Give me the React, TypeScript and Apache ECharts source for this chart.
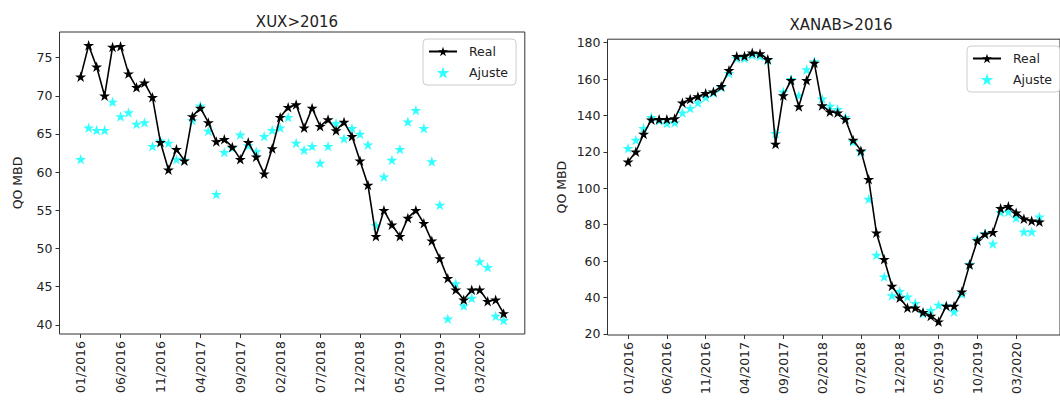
import React, { useEffect, useRef } from 'react';
import * as echarts from 'echarts';

const months = [
  '01/2016', '02/2016', '03/2016', '04/2016', '05/2016', '06/2016', '07/2016', '08/2016', '09/2016', '10/2016', '11/2016', '12/2016',
  '01/2017', '02/2017', '03/2017', '04/2017', '05/2017', '06/2017', '07/2017', '08/2017', '09/2017', '10/2017', '11/2017', '12/2017',
  '01/2018', '02/2018', '03/2018', '04/2018', '05/2018', '06/2018', '07/2018', '08/2018', '09/2018', '10/2018', '11/2018', '12/2018',
  '01/2019', '02/2019', '03/2019', '04/2019', '05/2019', '06/2019', '07/2019', '08/2019', '09/2019', '10/2019', '11/2019', '12/2019',
  '01/2020', '02/2020', '03/2020', '04/2020', '05/2020', '06/2020',
];

const tickIndices = [0, 5, 10, 15, 20, 25, 30, 35, 40, 45, 50];

const xuxReal = [
  72.5, 76.6, 73.8, 70.0, 76.4, 76.5, 72.9, 71.1, 71.7, 69.8,
  63.9, 60.3, 63.0, 61.5, 67.3, 68.4, 66.5, 64.0, 64.3, 63.3,
  61.7, 63.9, 62.0, 59.8, 63.1, 67.2, 68.5, 68.85, 65.8, 68.4,
  66.0, 66.9, 65.45, 66.55, 64.7, 61.5, 58.3, 51.6, 55.0, 53.1,
  51.6, 54.0, 55.0, 53.3, 51.0, 48.7, 46.1, 44.6, 43.3, 44.6,
  44.6, 43.1, 43.3, 41.5,
];
const xuxAjuste = [
  61.7, 65.8, 65.5, 65.5, 69.2, 67.3, 67.8, 66.3, 66.5, 63.4,
  64.1, 63.8, 61.7, 61.6, 66.8, 68.7, 65.4, 57.1, 62.6, 63.2,
  64.9, 63.5, 62.7, 64.7, 65.5, 65.8, 67.2, 63.8, 62.9, 63.4,
  61.2, 63.4, 66.4, 64.4, 65.75, 65.0, 63.6, 53.0, 59.4, 61.6,
  63.0, 66.6, 68.1, 65.75, 61.4, 55.7, 40.8, 45.4, 42.5, 43.5,
  48.3, 47.55, 41.15, 40.6,
];
const xanabReal = [
  114.6, 120.1, 129.8, 137.7, 137.9, 137.9, 138.3, 147.0, 149.0, 150.5,
  152.2, 153.0, 156.0, 164.8, 172.5, 172.7, 174.5, 174.0, 170.9, 124.4,
  151.0, 159.3, 145.0, 159.3, 168.8, 145.5, 142.1, 141.5, 137.9, 126.6,
  120.7, 105.0, 75.6, 61.0, 46.4, 39.9, 34.4, 34.4, 32.0, 29.9,
  26.8, 35.4, 35.4, 43.2, 58.1, 71.4, 74.9, 75.9, 89.0, 90.1,
  86.6, 83.3, 82.2, 81.7,
];
const xanabAjuste = [
  122.0, 126.6, 133.0, 139.0, 137.2, 135.7, 136.1, 141.5, 144.0, 147.0,
  150.0, 152.5, 155.5, 163.2, 171.4, 171.4, 173.2, 172.7, 170.5, 130.2,
  153.1, 159.9, 151.0, 165.2, 169.6, 149.2, 145.2, 143.4, 139.0, 125.6,
  120.0, 94.2, 63.4, 51.5, 41.2, 43.5, 40.5, 36.9, 31.4, 33.0,
  35.9, 35.5, 32.2, 42.0, 58.5, 72.3, 75.3, 69.6, 86.9, 87.2,
  83.8, 76.2, 76.2, 84.4,
];

const xuxYTicks = [40, 45, 50, 55, 60, 65, 70, 75];
const xanabYTicks = [20, 40, 60, 80, 100, 120, 140, 160, 180];

const STAR =
  'path://M0,-1L0.2245,-0.309L0.951,-0.309L0.363,0.118L0.588,0.809L0,0.382L-0.588,0.809L-0.363,0.118L-0.951,-0.309L-0.2245,-0.309Z';

const FONT = 'DejaVu Sans';
const TXT = '#222222';
const AX = '#333333';

function makeX(gridIndex: number) {
  return {
    type: 'value',
    gridIndex,
    min: -2.65,
    max: 55.65,
    position: 'bottom',
    splitLine: { show: false },
    axisLine: { show: false, onZero: false },
    axisTick: { show: true, customValues: tickIndices, length: 4, lineStyle: { color: AX, width: 1 } },
    axisLabel: {
      customValues: tickIndices,
      rotate: 90,
      margin: 7,
      fontSize: 12.5,
      fontFamily: FONT,
      color: TXT,
      formatter: (v: number) => months[Math.round(v)] ?? '',
    },
  };
}

function makeY(gridIndex: number, min: number, max: number, ticks: number[], nameGap: number) {
  return {
    type: 'value',
    gridIndex,
    min,
    max,
    position: 'left',
    name: 'QO MBD',
    nameLocation: 'middle',
    nameGap,
    nameTextStyle: { fontSize: 12.5, fontFamily: FONT, color: TXT },
    splitLine: { show: false },
    axisLine: { show: false, onZero: false },
    axisTick: { show: true, customValues: ticks, length: 4, lineStyle: { color: AX, width: 1 } },
    axisLabel: { customValues: ticks, margin: 7, fontSize: 12.5, fontFamily: FONT, color: TXT },
  };
}

function makeSeries(idx: number, real: number[], fit: number[]) {
  return [
    {
      type: 'scatter',
      name: 'Ajuste',
      xAxisIndex: idx,
      yAxisIndex: idx,
      data: fit.map((v, i) => [i, v]),
      symbol: STAR,
      symbolSize: [11, 10.5],
      itemStyle: { color: '#00ffff' },
      z: 2,
      emphasis: { disabled: true },
    },
    {
      type: 'line',
      name: 'Real',
      xAxisIndex: idx,
      yAxisIndex: idx,
      data: real.map((v, i) => [i, v]),
      symbol: STAR,
      symbolSize: [11, 10.5],
      showAllSymbol: true,
      itemStyle: { color: '#000000' },
      lineStyle: { color: '#000000', width: 1.6 },
      z: 3,
      emphasis: { disabled: true },
    },
  ];
}

const legendCommon = {
  orient: 'vertical',
  data: ['Real', 'Ajuste'],
  itemWidth: 28,
  itemHeight: 12,
  itemGap: 8,
  padding: [6, 8, 6, 5],
  borderColor: '#cccccc',
  borderWidth: 1,
  borderRadius: 4,
  backgroundColor: 'rgba(255,255,255,0.8)',
  textStyle: { fontSize: 12.5, fontFamily: FONT, color: TXT, padding: [0, 0, 0, 7] },
  selectedMode: false,
};

export default function App() {
  const ref = useRef<HTMLDivElement>(null);
  useEffect(() => {
    if (!ref.current) return;
    const chart = echarts.init(ref.current, undefined, { renderer: 'svg' });
    chart.setOption({
      animation: false,
      backgroundColor: '#ffffff',
      title: [
        { text: 'XUX>2016', left: 292, top: 9, textAlign: 'center', textStyle: { fontSize: 15, fontWeight: 'normal', fontFamily: FONT, color: TXT } },
        { text: 'XANAB>2016', left: 836, top: 12, textAlign: 'center', textStyle: { fontSize: 15, fontWeight: 'normal', fontFamily: FONT, color: TXT } },
      ],
      legend: [
        { ...legendCommon, left: 423, top: 39 },
        { ...legendCommon, left: 967, top: 46 },
      ],
      grid: [
        { left: 59.5, top: 32, width: 465.3, height: 302, show: true, borderColor: AX, borderWidth: 1, backgroundColor: 'transparent' },
        { left: 607.5, top: 39.2, width: 458, height: 295.8, show: true, borderColor: AX, borderWidth: 1, backgroundColor: 'transparent' },
      ],
      xAxis: [makeX(0), makeX(1)],
      yAxis: [makeY(0, 38.8, 78.35, xuxYTicks, 36), makeY(1, 19.45, 181.9, xanabYTicks, 40)],
      series: [
        ...makeSeries(0, xuxReal, xuxAjuste),
        ...makeSeries(1, xanabReal, xanabAjuste),
      ],
    });
    return () => chart.dispose();
  }, []);
  return <div ref={ref} style={{ position: 'fixed', left: 0, top: 0, width: 1060, height: 405 }} />;
}
